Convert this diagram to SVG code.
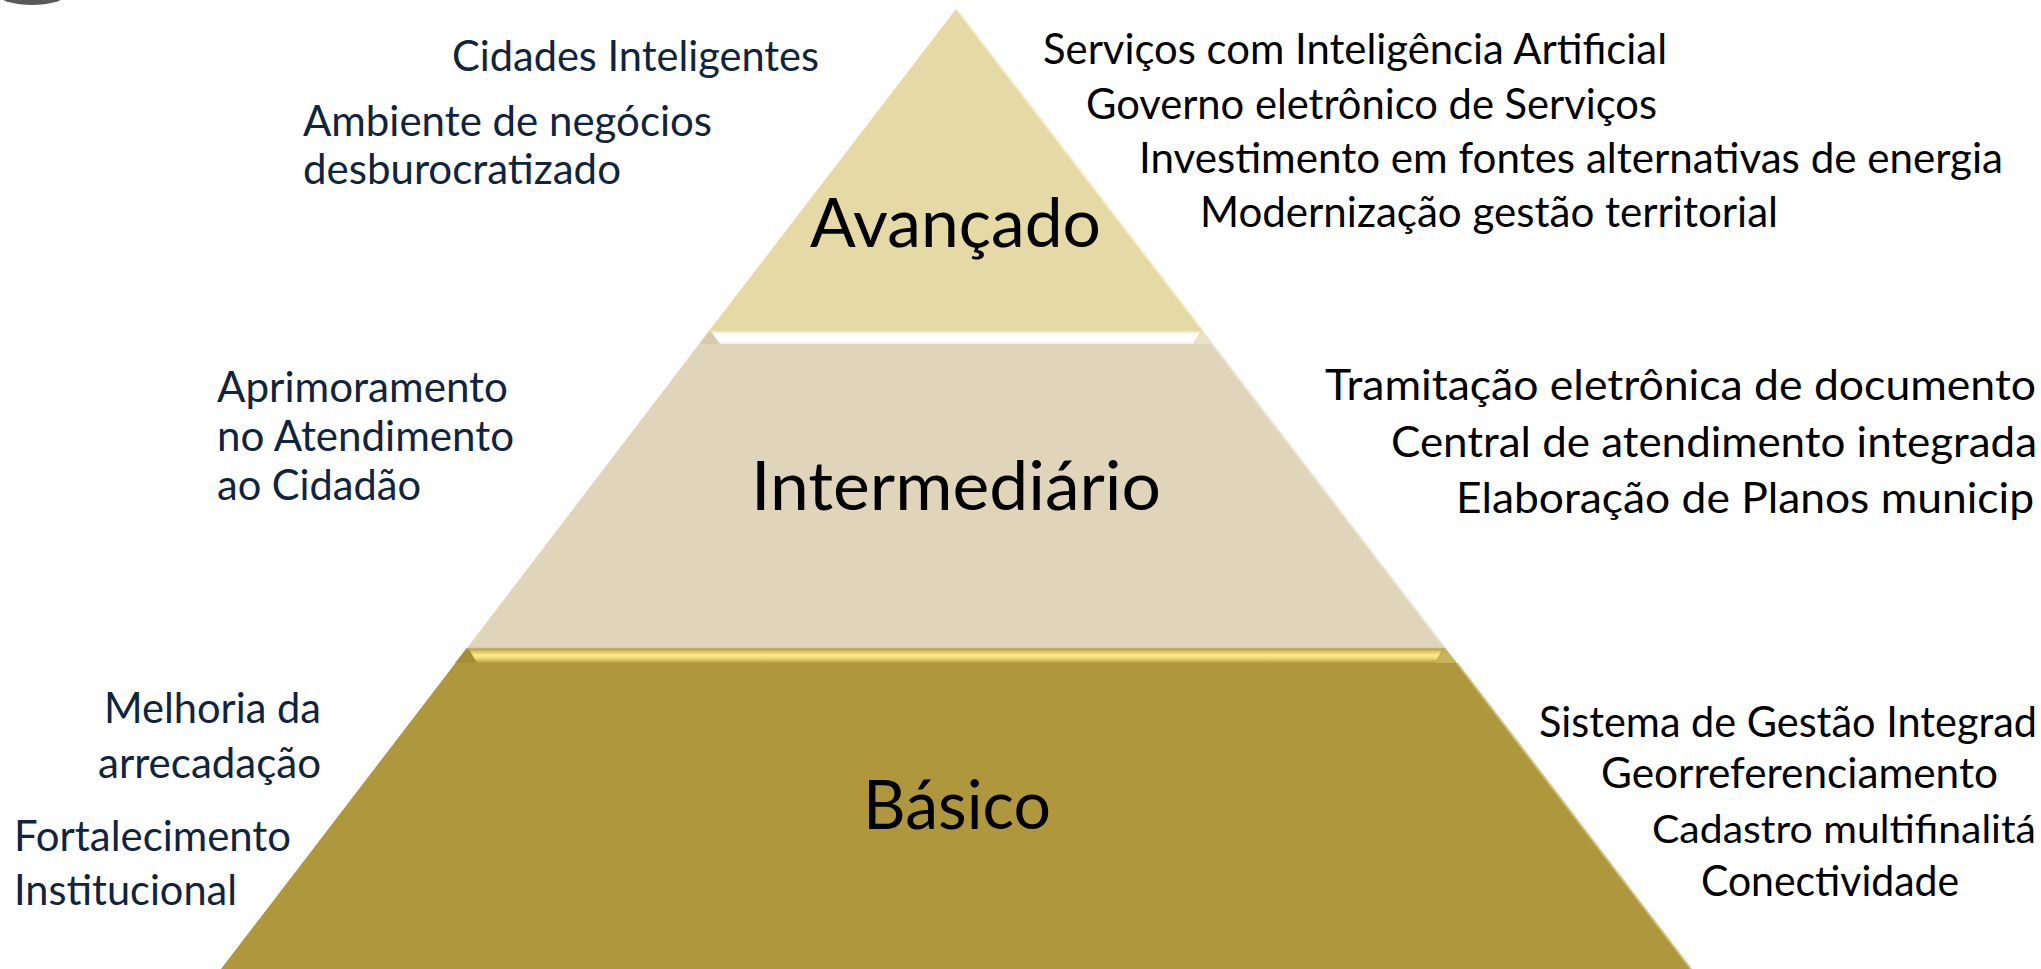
<svg xmlns="http://www.w3.org/2000/svg" width="2041" height="969" viewBox="0 0 2041 969">
<style>
.side{font-family:Lato,"Open Sans","Liberation Sans",sans-serif;font-size:42px}
.l{fill:#10243E}
.r{fill:#000000}
.lab{font-family:Lato,"Open Sans","Liberation Sans",sans-serif;font-size:68px;fill:#000000}
</style>
<defs>
<linearGradient id="whiteBevel" x1="0" y1="0" x2="0" y2="1">
<stop offset="0" stop-color="#EDE3C3"/>
<stop offset="0.3" stop-color="#FFFFFF"/>
<stop offset="0.8" stop-color="#FFFFFF"/>
<stop offset="1" stop-color="#F2EBDA"/>
</linearGradient>
<linearGradient id="goldBevel" x1="0" y1="0" x2="0" y2="1">
<stop offset="0" stop-color="#B8A24B"/>
<stop offset="0.15" stop-color="#D6C25E"/>
<stop offset="0.45" stop-color="#FBEC8E"/>
<stop offset="0.65" stop-color="#EEDB77"/>
<stop offset="1" stop-color="#B39B42"/>
</linearGradient>
</defs>
<rect width="2041" height="969" fill="#FFFFFF"/>
<ellipse cx="32" cy="-4" rx="32" ry="9" fill="#595959"/>

<g id="tier-avancado">
<polygon points="956,9 1203,331 709,331" fill="#E5D9A5"/>
<line x1="957" y1="10" x2="1203" y2="331" stroke="#F4ECC2" stroke-width="2"/>
<text class="lab" x="810" y="247" textLength="291" lengthAdjust="spacingAndGlyphs">Avançado</text>
</g>

<g id="tier-intermediario">
<polygon points="709,331 1203,331 1445,648 467,648" fill="#E0D5BB"/>
<polygon points="711,331 1201,331 1193,344 720,344" fill="url(#whiteBevel)"/>
<polygon points="709,331 720,344 699.5,344" fill="#D6CAAC"/>
<polygon points="1203,331 1212.5,344 1193,344" fill="#EAE2CB"/>
<line x1="1212" y1="344" x2="1445" y2="648" stroke="#ECE4D0" stroke-width="2"/>
<text class="lab" x="751" y="510" textLength="410" lengthAdjust="spacingAndGlyphs">Intermediário</text>
</g>

<g id="tier-basico">
<polygon points="467,648 1445,648 1691,969 221,969" fill="#AF973E"/>
<line x1="467" y1="648.5" x2="1445" y2="648.5" stroke="#C2AF66" stroke-width="1.5"/>
<polygon points="469,649 1443,649 1435,663 477,663" fill="url(#goldBevel)"/>
<polygon points="467,648 477,663 455,663" fill="#A58D36"/>
<polygon points="1445,648 1457,663 1435,663" fill="#C9B45C"/>
<line x1="1457" y1="663" x2="1691" y2="969" stroke="#D3C27A" stroke-width="2"/>
<text class="lab" x="863" y="829" textLength="188" lengthAdjust="spacingAndGlyphs">Básico</text>
</g>

<g id="left-avancado" class="side l">
<text x="452" y="71" textLength="367" lengthAdjust="spacingAndGlyphs">Cidades Inteligentes</text>
<text x="303" y="136" textLength="409" lengthAdjust="spacingAndGlyphs">Ambiente de negócios</text>
<text x="303" y="184" textLength="318" lengthAdjust="spacingAndGlyphs">desburocratizado</text>
</g>

<g id="left-intermediario" class="side l">
<text x="217" y="402" textLength="291" lengthAdjust="spacingAndGlyphs">Aprimoramento</text>
<text x="217" y="451" textLength="297" lengthAdjust="spacingAndGlyphs">no Atendimento</text>
<text x="217" y="500" textLength="204" lengthAdjust="spacingAndGlyphs">ao Cidadão</text>
</g>

<g id="left-basico" class="side l">
<text x="104" y="723" textLength="217" lengthAdjust="spacingAndGlyphs">Melhoria da</text>
<text x="98" y="778" textLength="223" lengthAdjust="spacingAndGlyphs">arrecadação</text>
<text x="14" y="851" textLength="277" lengthAdjust="spacingAndGlyphs">Fortalecimento</text>
<text x="14" y="905" textLength="223" lengthAdjust="spacingAndGlyphs">Institucional</text>
</g>

<g id="right-avancado" class="side r">
<text x="1043" y="64" textLength="624" lengthAdjust="spacingAndGlyphs">Serviços com Inteligência Artificial</text>
<text x="1086" y="119" textLength="571" lengthAdjust="spacingAndGlyphs">Governo eletrônico de Serviços</text>
<text x="1139" y="173" textLength="864" lengthAdjust="spacingAndGlyphs">Investimento em fontes alternativas de energia</text>
<text x="1200" y="227" textLength="578" lengthAdjust="spacingAndGlyphs">Modernização gestão territorial</text>
</g>

<g id="right-intermediario" class="side r">
<text x="1325" y="400" textLength="711" lengthAdjust="spacingAndGlyphs">Tramitação eletrônica de documento</text>
<text x="1391" y="457" textLength="646" lengthAdjust="spacingAndGlyphs">Central de atendimento integrada</text>
<text x="1456" y="513" textLength="578" lengthAdjust="spacingAndGlyphs">Elaboração de Planos municip</text>
</g>

<g id="right-basico" class="side r">
<text x="1539" y="737" textLength="498" lengthAdjust="spacingAndGlyphs">Sistema de Gestão Integrad</text>
<text x="1601" y="788" textLength="397" lengthAdjust="spacingAndGlyphs">Georreferenciamento</text>
<text x="1652" y="843" font-size="39" textLength="384" lengthAdjust="spacingAndGlyphs">Cadastro multifinalitá</text>
<text x="1701" y="896" textLength="258" lengthAdjust="spacingAndGlyphs">Conectividade</text>
</g>

<g id="connectors"></g>
</svg>
